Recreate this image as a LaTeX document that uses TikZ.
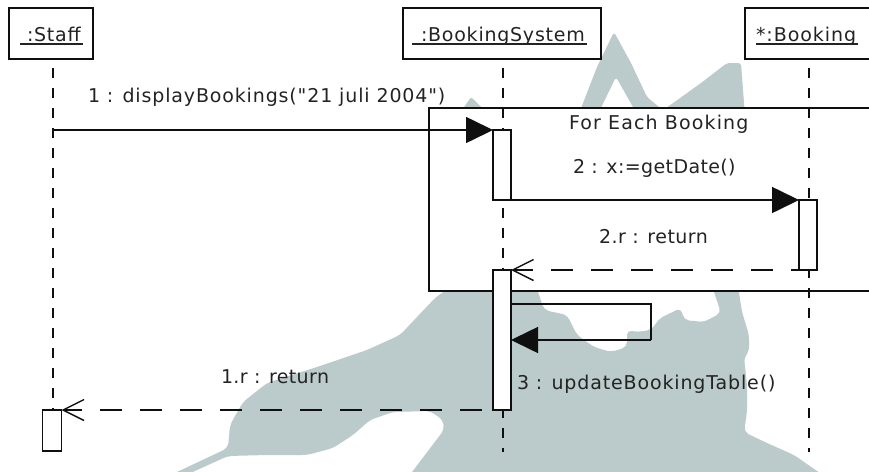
\documentclass[tikz,border=0pt]{standalone}
\usepackage{fontspec}
\setmainfont{DejaVu Sans}[Ligatures=TeXOff]
\usetikzlibrary{arrows.meta}
\definecolor{blob}{RGB}{187,203,203}
\definecolor{ink}{RGB}{15,15,15}
\definecolor{txt}{RGB}{35,35,35}
\newcommand\ulined[2]{\setbox0\hbox{\hspace{#1}#2\hspace{2pt}}\rlap{\rule[-3.5pt]{\wd0}{1.6pt}}\box0}
\newcommand\ls[1]{\addfontfeatures{LetterSpace=#1}}
\tikzset{
  x=1pt,y=-1pt,
  every node/.style={inner sep=0,outer sep=0,text=txt,font=\fontsize{19}{21}\selectfont},
  headbox/.style={draw=ink,line width=1.6pt,fill=white,minimum height=51pt,anchor=north west},
  lifeline/.style={draw=ink,line width=1.6pt,dash pattern=on 10pt off 10pt},
  bar/.style={draw=ink,line width=1.6pt,fill=white,minimum width=18pt,anchor=north},
  msg/.style={draw=ink,line width=1.6pt},
  call/.style={msg,-{Triangle[length=27pt,width=26pt]}},
  reply/.style={msg,dash pattern=on 22pt off 18pt,-{Straight Barb[length=21pt,width=21pt,line width=1.4pt]}},
  label/.style={anchor=base west},
  framebox/.style={draw=ink,line width=1.6pt,fill=white}
}
\begin{document}
\begin{tikzpicture}
\useasboundingbox (0,0) rectangle (869,471);
% background silhouette
\fill[blob,rounded corners=2pt] (458,116) -- (471,97) -- (490,116) -- cycle;
\fill[blob,rounded corners=3pt] (578,116) -- (597,67) -- (614,32) -- (631,63) -- (647,97) -- (670,116) -- (638,116) -- (616,77) -- (597,116) -- cycle;
\fill[blob,rounded corners=3pt] (655,116) -- (701,83) -- (727,63) -- (741,63) -- (745,116) -- cycle;
\fill[blob,rounded corners=5pt] (460,280) -- (435,298) -- (400,335) -- (367,350) -- (317,367) -- (267,383) -- (243,402) -- (230,425) -- (228,448) -- (160,480)
  -- (175,480) -- (228,456) -- (267,455) -- (307,455) -- (333,448) -- (353,435) -- (370,420) -- (393,412) -- (430,411) -- (443,420) -- (444,430) -- (434,443) -- (406,480)
  -- (830,480) -- (794,455) -- (767,443) -- (744,432) -- (747,412) -- (747,385) -- (744,357) -- (749,352) -- (749,335) -- (742,312) -- (737,280)
  -- (710,280) -- (721,313) -- (704,322) -- (684,320) -- (681,308) -- (660,318) -- (651,330) -- (637,332) -- (627,330) -- (627,347) -- (611,352) -- (594,347) -- (577,335) -- (567,315) -- (544,310) -- (534,280) -- cycle;
% combined fragment
\node[framebox,minimum width=460pt,minimum height=183pt,anchor=north west] (frag) at (429,108) {};
% heads
\node[headbox,minimum width=84pt] (staff) at (9,8) {};
\node[headbox,minimum width=198pt] (sys) at (403,8) {};
\node[headbox,minimum width=140pt] (book) at (745,8) {};
\node[anchor=base west] (staffname) at (20,41) {\ls{4}\ulined{7pt}{:Staff}};
\node[anchor=base west] (sysname) at (412,41) {\ls{4}\ulined{9pt}{:BookingSystem}};
\node[anchor=base west] (bookname) at (756,41) {\ls{5}\ulined{0pt}{*:Booking}};
% lifeline ends
\coordinate (staffT) at (53,68); \coordinate (staffB) at (53,410);
\coordinate (sysT) at (503,68); \coordinate (sysB) at (503,452);
\coordinate (bookT) at (809,68); \coordinate (bookB) at (809,452);
\draw[lifeline] (staffT) -- (staffB);
\draw[lifeline] (sysT) -- (sysB);
\draw[lifeline] (bookT) -- (bookB);
% activations
\node[bar,minimum height=70pt] (a1) at (502,130) {};
\node[bar,minimum height=70pt] (b1) at (808,200) {};
\node[bar,minimum height=140pt] (a2) at (502,270) {};
\node[bar,minimum height=41pt,minimum width=19pt] (s1) at (52,410) {};
% messages
\coordinate (m1) at (53,130);
\draw[call] (m1) -- (a1.north west);
\draw[call] (a1.south west) -- (b1.north west);
\draw[reply,dash phase=14pt] (b1.south west) -- (a2.north east);
\coordinate (loopA) at (651,304); \coordinate (loopB) at (651,340);
\draw[msg] (a2.east |- loopA) -- (loopA) -- (loopB);
\draw[call] (loopB) -- (a2.east |- loopB);
\draw[reply,dash phase=29pt] (a2.south west) -- (s1.north east);
% labels
\node[label] (l1) at (88,102) {\ls{4.5}1 : displayBookings("21 juli 2004")};
\node[label] (l2) at (569,129) {\ls{6}For Each Booking};
\node[label] (l3) at (573,173) {\ls{2}2 : x:=getDate()};
\node[label] (l4) at (599,243) {\ls{2.5}2.r : return};
\node[label] (l5) at (221,383) {\ls{2}1.r : return};
\node[label] (l6) at (517,389) {\ls{4.5}3 : updateBookingTable()};
\end{tikzpicture}
\end{document}
